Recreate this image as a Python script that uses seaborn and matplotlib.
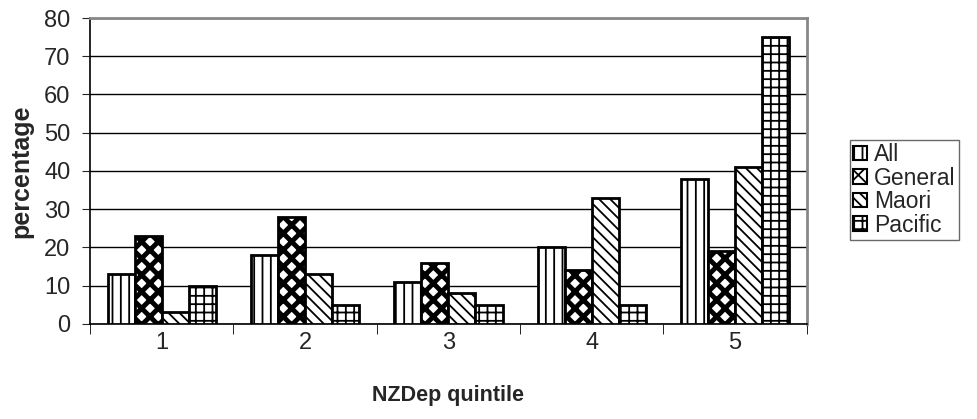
import matplotlib
matplotlib.use("Agg")
import matplotlib.pyplot as plt
import seaborn as sns
import pandas as pd

quintiles = ["1", "2", "3", "4", "5"]
groups = ["All", "General", "Maori", "Pacific"]
all_vals = [13, 18, 11, 20, 38]
general_vals = [23, 28, 16, 14, 19]
maori_vals = [3, 13, 8, 33, 41]
pacific_vals = [10, 5, 5, 5, 75]

rows = []
for g, vals in zip(groups, [all_vals, general_vals, maori_vals, pacific_vals]):
    for q, v in zip(quintiles, vals):
        rows.append({"quintile": q, "group": g, "value": v})
df = pd.DataFrame(rows)

sns.set_style("white")
plt.rcParams['font.family'] = ['Liberation Sans', 'DejaVu Sans']
plt.rcParams['hatch.linewidth'] = 1.3

fig = plt.figure(figsize=(9.78, 4.19), dpi=100)
ax = fig.add_axes([0.092, 0.227, 0.733, 0.730])

sns.barplot(data=df, x="quintile", y="value", hue="group", order=quintiles,
            hue_order=groups, palette=["white"] * 4, edgecolor="black",
            linewidth=2, width=0.755, gap=0, ax=ax, zorder=3, errorbar=None)

hatches = {"All": "||", "General": "xx", "Maori": "\\\\\\", "Pacific": "++"}
hatch_lw = {"All": 1.3, "General": 3.5, "Maori": 1.3, "Pacific": 1.3}
for cont, g in zip(ax.containers, groups):
    for bar in cont:
        bar.set_hatch(hatches[g])
        if hasattr(bar, "set_hatch_linewidth"):
            bar.set_hatch_linewidth(hatch_lw[g])

ax.set_ylim(0, 80)
ax.set_xlim(-0.5, 4.5)
ax.set_yticks(range(0, 81, 10))
ax.yaxis.grid(True, color="black", linewidth=1, zorder=0)
ax.set_axisbelow(True)
ax.tick_params(axis="y", labelsize=17, length=6, direction="out", left=True, pad=8)
ax.tick_params(axis="x", which="major", labelsize=17, length=0, bottom=False, pad=6)
ax.set_xticks([i - 0.5 for i in range(6)], minor=True)
ax.tick_params(axis="x", which="minor", length=7, bottom=True, color="black")
ax.set_ylabel("percentage", fontsize=18, fontweight="bold", labelpad=8)
ax.set_xlabel("NZDep quintile", fontsize=15.5, fontweight="bold", labelpad=22)
for s in ["left", "bottom"]:
    ax.spines[s].set_color("black")
    ax.spines[s].set_linewidth(1.2)
for s in ["top", "right"]:
    ax.spines[s].set_color("#888888")
    ax.spines[s].set_linewidth(2)

handles, labels = ax.get_legend_handles_labels()
leg = ax.legend(handles, labels, loc="upper left", bbox_to_anchor=(1.06, 0.602),
                frameon=True, fancybox=False, edgecolor="#444444", fontsize=16.5,
                handlelength=0.6, handleheight=0.6, handletextpad=0.3,
                borderpad=0.15, labelspacing=0.02, borderaxespad=0)
leg.get_frame().set_linewidth(1)
for h, g in zip(leg.legend_handles, groups):
    h.set_hatch(hatches[g])
    h.set_linewidth(1.5)

fig.savefig("out.png", dpi=100)
